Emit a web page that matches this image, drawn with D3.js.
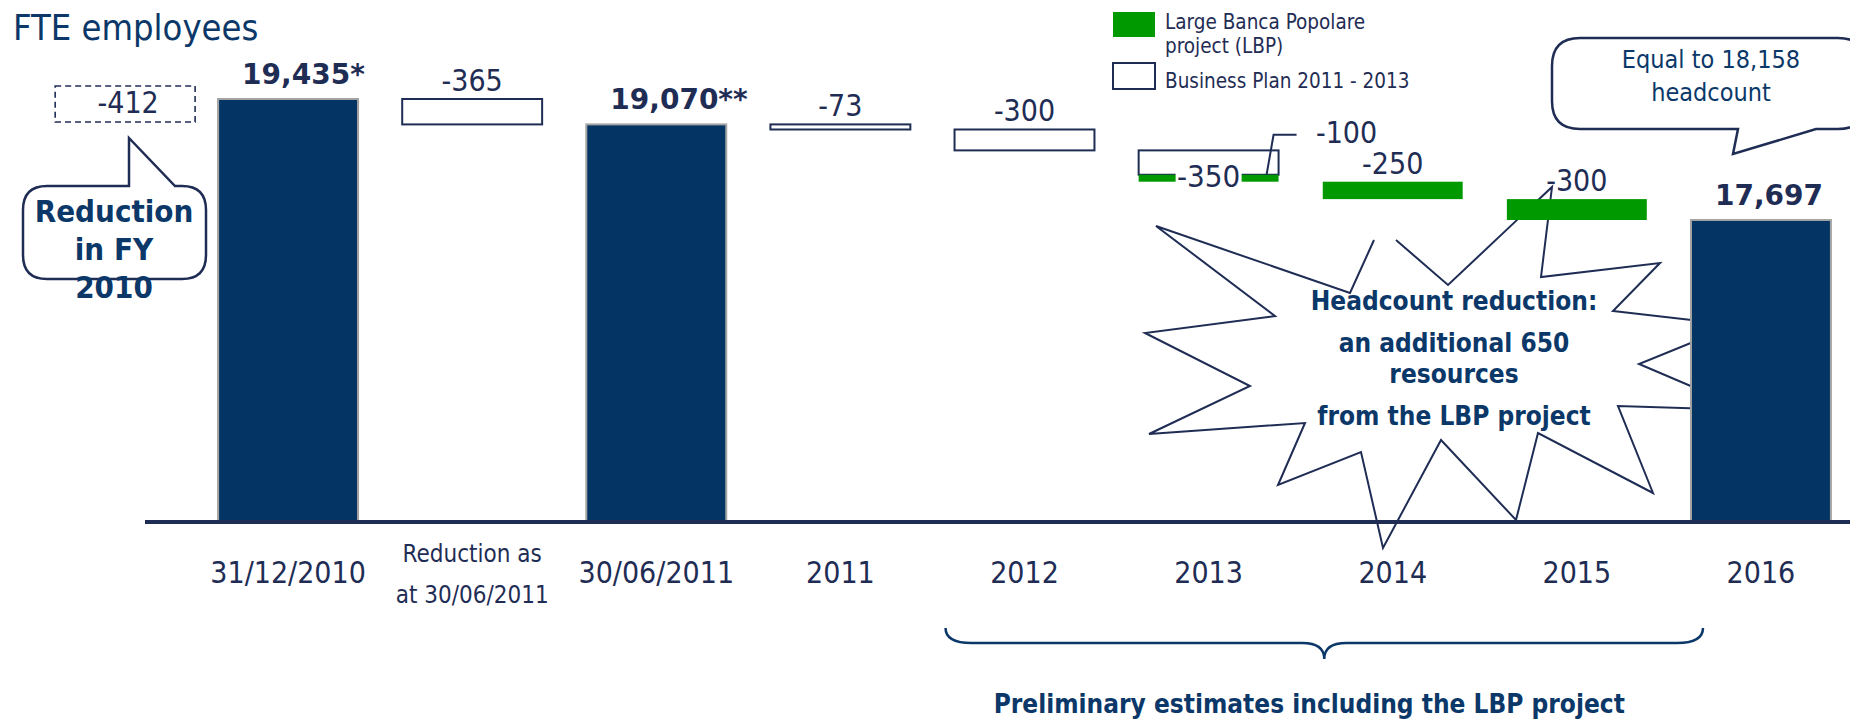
<!DOCTYPE html>
<html>
<head>
<meta charset="utf-8">
<script src="https://cdn.jsdelivr.net/npm/d3@7/dist/d3.min.js"></script>
<style>
  html, body { margin: 0; padding: 0; background: #fff; }
  svg { display: block; }
  .cond { font-family: "DejaVu Sans Condensed", "DejaVu Sans", sans-serif; font-stretch: condensed; }
  .wide { font-family: "DejaVu Sans", Verdana, sans-serif; }
</style>
</head>
<body>
<svg id="chart" width="1850" height="720"></svg>
<script>
// ---------- data ----------
const categories = ["31/12/2010", "Reduction as at 30/06/2011", "30/06/2011", "2011", "2012", "2013", "2014", "2015", "2016"];
const tickLabels = [["31/12/2010"], ["Reduction as", "at 30/06/2011"], ["30/06/2011"], ["2011"], ["2012"], ["2013"], ["2014"], ["2015"], ["2016"]];

const totalCategories = ["31/12/2010", "30/06/2011", "2016"];
const totalValues = [19435, 19070, 17697];
const totalLabels = ["19,435*", "19,070**", "17,697"];

const stepCategories = ["Reduction as at 30/06/2011", "2011", "2012", "2013", "2013", "2014", "2015"];
const stepSeries = ["plan", "plan", "plan", "plan", "lbp", "lbp", "lbp"];
const stepValues = [-365, -73, -300, -350, -100, -250, -300];

const fy2010Reduction = -412;
const equalHeadcount = 18158;

const legendSeries = ["lbp", "plan"];
const legendLabels = [["Large Banca Popolare", "project (LBP)"], ["Business Plan 2011 - 2013"]];

// ---------- styles ----------
const NAVY = "#1f2d55";
const DARK_BLUE = "#0b3868";
const BAR_FILL = "#033463";
const BAR_EDGE = "#a3a3a3";
const GREEN = "#009900";

const svg = d3.select("#chart");
const baseY = 522;
const fmt = d3.format(",");

// ---------- scales ----------
const x = d3.scaleBand()
  .domain(categories)
  .range([196, 1853])
  .paddingInner(0.24)
  .paddingOuter(0.12);
const bw = x.bandwidth();

// broken value axis: bars rise from the baseline, tops follow the value scale
const y = d3.scaleLinear()
  .domain(d3.extent(totalValues))
  .range([220, 99]);

// cumulative waterfall steps
let level = totalValues[0];
const steps = stepValues.map((v, i) => {
  const s = { cat: stepCategories[i], series: stepSeries[i], value: v, from: level, to: level + v, i };
  level += v;
  return s;
});

// ---------- starburst annotation (drawn underneath everything) ----------
const burstOutline = [
  [1396, 240], [1448, 285], [1552, 187], [1541, 277], [1660, 263], [1613, 311],
  [1735, 325], [1639, 364], [1747, 410], [1618, 406], [1653, 493], [1538, 433],
  [1516, 520], [1441, 440], [1383, 548], [1361, 452], [1278, 485], [1305, 423],
  [1149, 434], [1250, 386], [1145, 333], [1275, 316], [1156, 226], [1350, 293],
  [1374, 240]
];
svg.append("path")
  .attr("d", d3.line()(burstOutline))
  .attr("fill", "#fff")
  .attr("stroke", NAVY)
  .attr("stroke-width", 2)
  .attr("stroke-linejoin", "miter");

const lbpTotal = -d3.sum(stepValues.filter((v, i) => stepSeries[i] === "lbp"));
const burstLines = [
  ["Headcount reduction:", 310],
  [`an additional ${lbpTotal}`, 352],
  ["resources", 383],
  ["from the LBP project", 425]
];
svg.append("g").selectAll("text").data(burstLines).join("text")
  .attr("class", "cond")
  .attr("x", 1454).attr("y", d => d[1])
  .attr("text-anchor", "middle")
  .attr("font-size", 26).attr("font-weight", "bold")
  .attr("fill", DARK_BLUE)
  .text(d => d[0]);

// ---------- callouts ----------
function callout(x0, y0, x1, y1, r, pointer) {
  // rounded box with a wedge pointer on its top or bottom edge
  const p = d3.path();
  p.moveTo(x0 + r, y0);
  if (pointer.side === "top") {
    p.lineTo(pointer.a, y0); p.lineTo(pointer.tx, pointer.ty); p.lineTo(pointer.b, y0);
  }
  p.lineTo(x1 - r, y0);
  p.quadraticCurveTo(x1, y0, x1, y0 + r);
  p.lineTo(x1, y1 - r);
  p.quadraticCurveTo(x1, y1, x1 - r, y1);
  if (pointer.side === "bottom") {
    p.lineTo(pointer.b, y1); p.lineTo(pointer.tx, pointer.ty); p.lineTo(pointer.a, y1);
  }
  p.lineTo(x0 + r, y1);
  p.quadraticCurveTo(x0, y1, x0, y1 - r);
  p.lineTo(x0, y0 + r);
  p.quadraticCurveTo(x0, y0, x0 + r, y0);
  p.closePath();
  return p.toString();
}

// "Reduction in FY 2010"
svg.append("path")
  .attr("d", callout(23, 186, 206, 279, 24, { side: "top", a: 129, tx: 129, ty: 138, b: 175 }))
  .attr("fill", "#fff").attr("stroke", NAVY).attr("stroke-width", 2.5);
svg.append("g").selectAll("text").data([["Reduction", 222], ["in FY", 260], ["2010", 298]]).join("text")
  .attr("class", "cond")
  .attr("x", 114).attr("y", d => d[1])
  .attr("text-anchor", "middle")
  .attr("font-size", 31).attr("font-weight", "bold")
  .attr("fill", DARK_BLUE)
  .text(d => d[0]);

// "Equal to 18,158 headcount"
svg.append("path")
  .attr("d", callout(1552, 38, 1866, 129, 28, { side: "bottom", a: 1738, tx: 1733, ty: 154, b: 1816 }))
  .attr("fill", "#fff").attr("stroke", NAVY).attr("stroke-width", 2.5);
svg.append("g").selectAll("text").data([[`Equal to ${fmt(equalHeadcount)}`, 68], ["headcount", 101]]).join("text")
  .attr("class", "cond")
  .attr("x", 1711).attr("y", d => d[1])
  .attr("text-anchor", "middle")
  .attr("font-size", 25)
  .attr("fill", DARK_BLUE)
  .text(d => d[0]);

// dashed box with the FY 2010 reduction
const fyRight = x(categories[0]) - 23;
const fyTop = y(totalValues[0]) - 13;
svg.append("rect")
  .attr("x", fyRight - bw).attr("y", fyTop)
  .attr("width", bw).attr("height", 36)
  .attr("fill", "#fff").attr("stroke", NAVY)
  .attr("stroke-width", 1.6).attr("stroke-dasharray", "6,4");
svg.append("text")
  .attr("class", "cond")
  .attr("x", fyRight - bw / 2 + 3).attr("y", fyTop + 27)
  .attr("text-anchor", "middle")
  .attr("font-size", 30)
  .attr("fill", NAVY)
  .text(fy2010Reduction);

// ---------- total bars ----------
const totals = totalValues.map((v, i) => ({ cat: totalCategories[i], value: v, label: totalLabels[i] }));
svg.append("g").selectAll("rect").data(totals).join("rect")
  .attr("x", d => x(d.cat))
  .attr("y", d => y(d.value))
  .attr("width", bw)
  .attr("height", d => baseY - y(d.value))
  .attr("fill", BAR_FILL)
  .attr("stroke", BAR_EDGE)
  .attr("stroke-width", 2);

// ---------- waterfall steps ----------
svg.append("g").selectAll("rect").data(steps).join("rect")
  .attr("x", d => x(d.cat))
  .attr("y", d => y(d.from))
  .attr("width", bw)
  .attr("height", d => Math.max(1, y(d.to) - y(d.from)))
  .attr("fill", d => d.series === "lbp" ? GREEN : "#fff")
  .attr("stroke", d => d.series === "lbp" ? "none" : NAVY)
  .attr("stroke-width", 2);

// ---------- baseline ----------
svg.append("line")
  .attr("x1", 145).attr("x2", 1850)
  .attr("y1", baseY).attr("y2", baseY)
  .attr("stroke", NAVY).attr("stroke-width", 4);

// ---------- category axis ----------
const axisG = svg.append("g")
  .attr("transform", `translate(0,${baseY})`)
  .call(d3.axisBottom(x).tickSize(0).tickPadding(0));
axisG.select(".domain").remove();
axisG.attr("font-size", null).attr("font-family", null);
axisG.selectAll(".tick text").each(function (d, i) {
  const lines = tickLabels[i];
  const t = d3.select(this)
    .attr("class", "cond")
    .attr("y", 0).attr("dy", null)
    .attr("fill", NAVY)
    .attr("font-size", lines.length > 1 ? 24 : 30)
    .text(null);
  lines.forEach((line, j) => {
    t.append("tspan")
      .attr("x", 0)
      .attr("y", lines.length > 1 ? 40 + 41 * j : 61)
      .text(line);
  });
});

// ---------- value labels ----------
svg.append("g").selectAll("text").data(totals).join("text")
  .attr("class", "wide")
  .attr("x", d => x(d.cat) + 24)
  .attr("y", d => y(d.value) - 15)
  .attr("font-size", 28).attr("font-weight", "bold")
  .attr("fill", NAVY)
  .text(d => d.label);

const catCount = d3.rollup(steps, v => v.length, d => d.cat);
const labelG = svg.append("g");
steps.forEach(s => {
  const shared = catCount.get(s.cat) > 1;
  const firstOfCat = steps.find(o => o.cat === s.cat) === s;
  const cx = x(s.cat) + bw / 2;
  if (shared && firstOfCat) {
    // label sits on the box, knocked out of a white background
    const by = y(s.to) + 12;
    labelG.append("rect")
      .attr("x", cx - 33).attr("y", by - 24)
      .attr("width", 66).attr("height", 29)
      .attr("fill", "#fff");
    labelG.append("text")
      .attr("class", "cond")
      .attr("x", cx).attr("y", by)
      .attr("text-anchor", "middle")
      .attr("font-size", 31).attr("fill", NAVY)
      .text(s.value);
  } else if (shared) {
    // label pulled out with a leader line
    const lx = x(s.cat) + bw - 12;
    const ly = y(s.from);
    labelG.append("path")
      .attr("d", `M${lx},${ly} L${lx + 7},${ly - 40} L${lx + 30},${ly - 40}`)
      .attr("fill", "none").attr("stroke", NAVY).attr("stroke-width", 2);
    labelG.append("text")
      .attr("class", "cond")
      .attr("x", lx + 80).attr("y", ly - 32)
      .attr("text-anchor", "middle")
      .attr("font-size", 30).attr("fill", NAVY)
      .text(s.value);
  } else {
    labelG.append("text")
      .attr("class", "cond")
      .attr("x", cx).attr("y", y(s.from) - 8)
      .attr("text-anchor", "middle")
      .attr("font-size", 30).attr("fill", NAVY)
      .text(s.value);
  }
});

// ---------- legend ----------
const legend = svg.append("g");
legendSeries.forEach((ser, i) => {
  const top = i === 0 ? 12 : 63;
  legend.append("rect")
    .attr("x", 1113).attr("y", top)
    .attr("width", 42).attr("height", i === 0 ? 25 : 26)
    .attr("fill", ser === "lbp" ? GREEN : "#fff")
    .attr("stroke", ser === "lbp" ? "none" : NAVY)
    .attr("stroke-width", 2);
  legendLabels[i].forEach((line, j) => {
    legend.append("text")
      .attr("class", "cond")
      .attr("x", 1165)
      .attr("y", i === 0 ? 29 + 24 * j : 88)
      .attr("font-size", 20.5).attr("fill", NAVY)
      .text(line);
  });
});

// ---------- title ----------
svg.append("text")
  .attr("class", "cond")
  .attr("x", 13).attr("y", 40)
  .attr("font-size", 36)
  .attr("fill", DARK_BLUE)
  .text("FTE employees");

// ---------- brace over the estimate years ----------
const bx0 = x("2012") - 9;
const bx1 = x("2016") + 12;
const bcx = (bx0 + bx1) / 2;
const bTop = 628, bMid = 643, bTip = 659;
svg.append("path")
  .attr("d", `M${bx0},${bTop} Q${bx0},${bMid} ${bx0 + 26},${bMid} L${bcx - 22},${bMid} Q${bcx},${bMid} ${bcx},${bTip}` +
             ` Q${bcx},${bMid} ${bcx + 22},${bMid} L${bx1 - 26},${bMid} Q${bx1},${bMid} ${bx1},${bTop}`)
  .attr("fill", "none").attr("stroke", DARK_BLUE).attr("stroke-width", 2.5);
svg.append("text")
  .attr("class", "cond")
  .attr("x", bcx - 15).attr("y", 713)
  .attr("text-anchor", "middle")
  .attr("font-size", 26).attr("font-weight", "bold")
  .attr("fill", DARK_BLUE)
  .text("Preliminary estimates including the LBP project");
</script>
</body>
</html>
